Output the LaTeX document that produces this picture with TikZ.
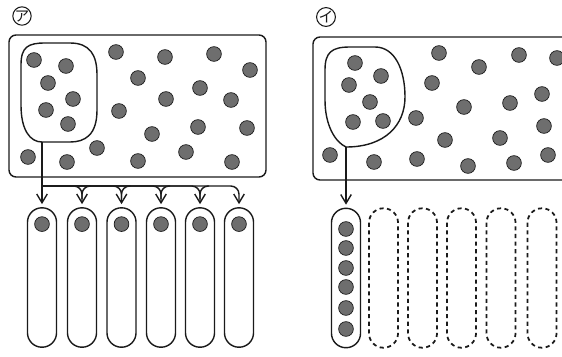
\documentclass[tikz,border=0pt]{standalone}
\usepackage{fontspec}
\newfontfamily\jpfont{Noto Sans CJK JP}
\usepackage{tikz}
\usetikzlibrary{arrows.meta, calc}
\usepackage{xcolor}
\definecolor{dotgray}{HTML}{6E6E6E}
\definecolor{inkline}{HTML}{1A1A1A}

\begin{document}
\begin{tikzpicture}[
    x=0.03cm, y=-0.03cm,
    inkline, line width=1.2pt,
    dot/.style={fill=dotgray, draw=inkline, line width=0.6pt},
    tube/.style={draw, minimum width=24.8pt, minimum height=119pt, rounded corners=12.3pt, inner sep=0pt},
    ghost/.style={tube, dashed, dash pattern=on 3.5pt off 3pt, line width=1.5pt},
    tag/.style={circle, draw, line width=0.9pt, minimum size=15pt, inner sep=0pt, font=\jpfont\fontsize{12.5}{12.5}\selectfont},
    arr/.style={-{Straight Barb[length=7.5pt, width=9pt, line width=1.2pt]}, shorten >=2.5pt}
]
    \useasboundingbox (0,0) rectangle (562,356);

    \node[tag] (tagA) at (22,16) {ア};
    \node[tag] (tagB) at (326,17) {イ};

    % left
    \draw[rounded corners=6pt] (9,35) rectangle (266,177);
    \coordinate (stemA) at (42,142);
    \draw (stemA) .. controls (30,142) and (21,130) .. (21,105) -- (21,65)
        .. controls (21,47) and (28,43) .. (45,43) -- (70,43)
        .. controls (90,43) and (97,55) .. (97,75) -- (97,110)
        .. controls (97,135) and (85,142) .. (70,142) -- cycle;
    \foreach \x/\y in {34/60, 66/66, 48/83, 73/99, 46/110, 68/124,
        116/52, 165/57, 214/54, 250/70, 138/78, 200/88, 166/99, 231/100,
        119/111, 152/134, 198/127, 247/128, 97/148, 186/152,
        28/157, 67/162, 138/161, 232/162}
        \draw[dot] (\x,\y) circle[radius=6.3pt];

    \coordinate (barA) at (0,186);
    \foreach \i/\x in {1/42, 2/82, 3/121.5, 4/161, 5/200, 6/239} {
        \node[tube] (tubeA\i) at (\x,277.5) {};
        \draw[dot] ($(tubeA\i.north)+(0,17)$) circle[radius=6.3pt];
    }
    \draw[arr] (stemA) -- (tubeA1.north);
    \foreach \i in {2,...,6}
        \draw[arr, rounded corners=7pt] (stemA |- barA) -| (tubeA\i.north);
    \foreach \i in {2,...,5}
        \draw[rounded corners=7pt] ($(tubeA\i.north |- barA)+(9,0)$) -| ($(tubeA\i.north)+(0,-8)$);

    % right
    \begin{scope}
        \clip (0,0) rectangle (562,356);
        \draw[rounded corners=6pt] (313,37) rectangle (590,180);
        \foreach \x/\y in {439/53, 479/67, 519/55, 557/58, 432/83, 542/94,
            464/107, 510/103, 416/118, 544/126, 445/140, 500/138, 548/155,
            330/155, 374/162, 417/159, 468/166, 514/163}
            \draw[dot] (\x,\y) circle[radius=6.3pt];
    \end{scope}
    \coordinate (stemB) at (346,147);
    \draw (stemB) .. controls (335,142) and (325,125) .. (325,100) -- (325,70)
        .. controls (325,52) and (332,47) .. (350,47) -- (375,47)
        .. controls (395,47) and (405,70) .. (405,97)
        .. controls (405,125) and (385,147) .. (stemB) -- cycle;
    \foreach \x/\y in {355/63, 381/76, 349/85, 370/102, 353/122, 383/121}
        \draw[dot] (\x,\y) circle[radius=6.3pt];

    \node[tube] (tubeB1) at (346,278) {};
    \foreach \y in {229, 248, 268, 287, 308, 329}
        \draw[dot] (346,\y) circle[radius=6.3pt];
    \foreach \i/\x in {2/383.5, 3/422.5, 4/461.5, 5/501, 6/542}
        \node[ghost] (tubeB\i) at (\x,278) {};
    \draw[arr] (stemB) -- (tubeB1.north);
\end{tikzpicture}
\end{document}
